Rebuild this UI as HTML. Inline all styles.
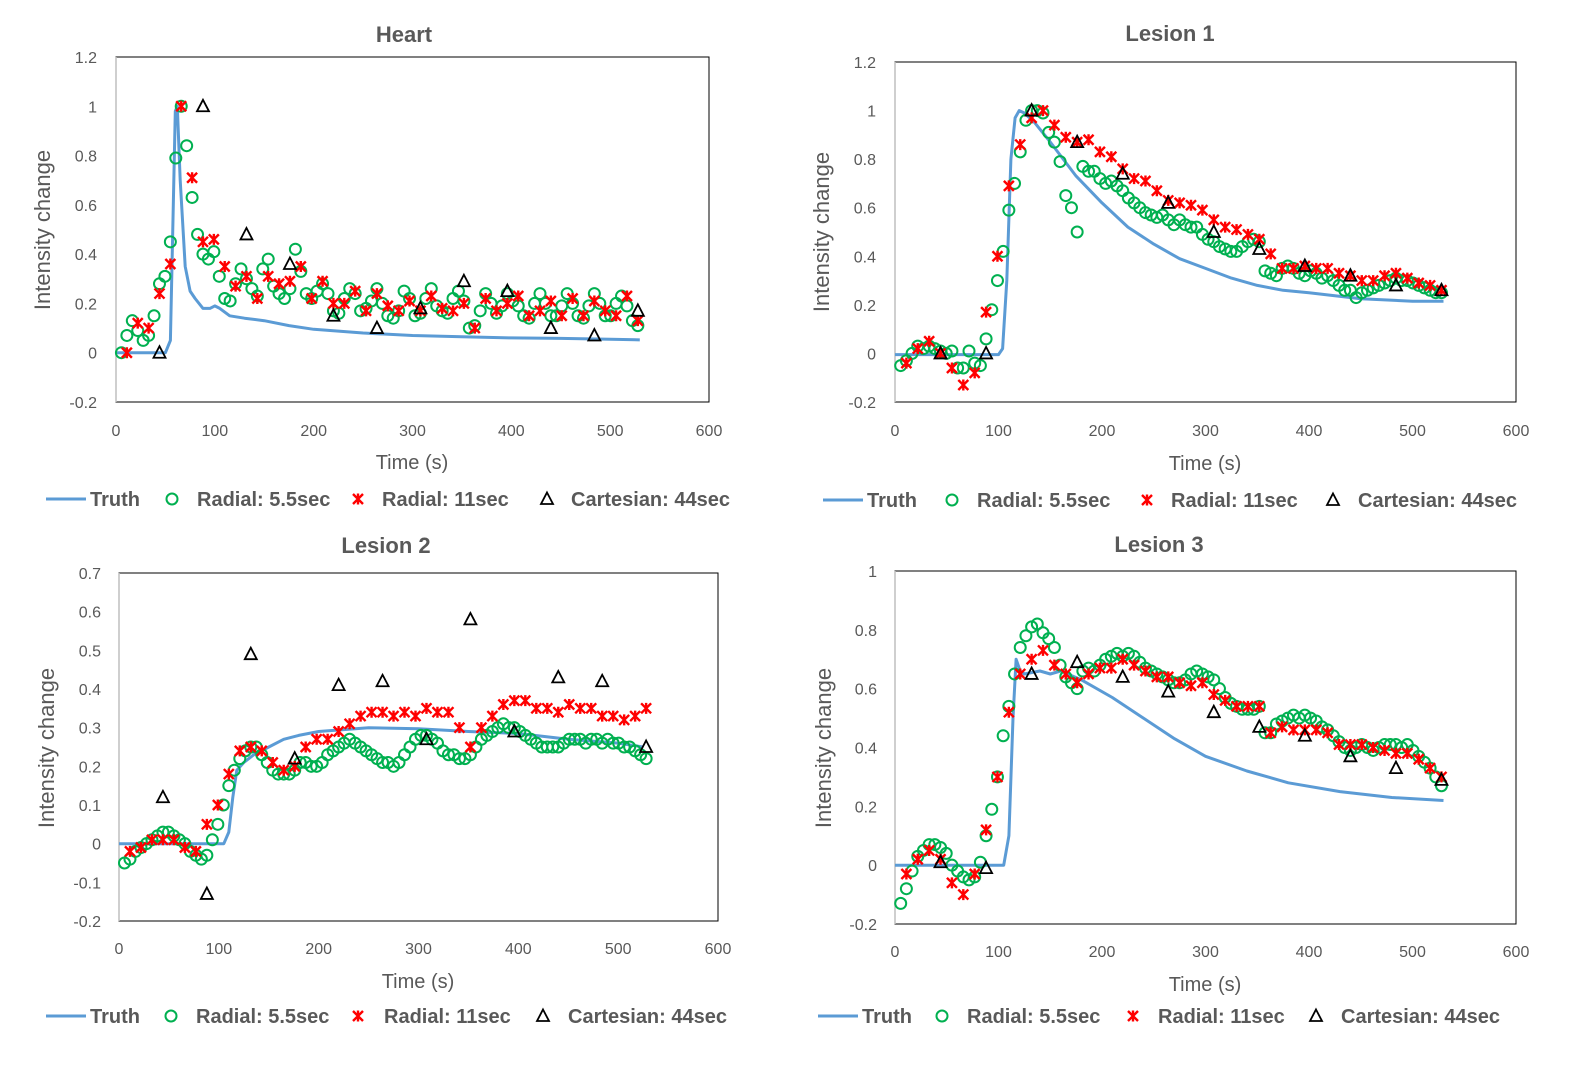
<!DOCTYPE html>
<html><head><meta charset="utf-8"><style>
body{margin:0;background:#fff;}
svg{display:block;font-family:"Liberation Sans",sans-serif;}
</style></head><body>
<svg id="chart" width="1593" height="1066" viewBox="0 0 1593 1066"></svg>
<script>
const NS="http://www.w3.org/2000/svg";
const svg=document.getElementById('chart');

// ---- Heart data ----
const heartTruthT=[0,50,55,58,60,62,65,70,75,80,88,95,100,105,115,130,150,175,200,250,300,350,400,450,500,530];
const heartTruthV=[0,0,0.05,0.6,0.98,1.0,0.7,0.35,0.25,0.22,0.18,0.18,0.19,0.18,0.15,0.14,0.13,0.11,0.095,0.08,0.07,0.065,0.06,0.058,0.055,0.052];
const heartR55=[0,0.07,0.13,0.09,0.05,0.07,0.15,0.28,0.31,0.45,0.79,1.0,0.84,0.63,0.48,0.40,0.38,0.41,0.31,0.22,0.21,0.28,0.34,0.30,0.26,0.23,0.34,0.38,0.27,0.24,0.22,0.26,0.42,0.33,
0.24,0.22,0.25,0.28,0.24,0.17,0.16,0.22,0.26,0.24,0.17,0.18,0.21,0.26,0.2,0.15,0.14,0.17,0.25,0.22,0.15,0.16,0.22,0.26,0.19,0.17,0.16,0.22,0.25,0.21,0.1,0.11,0.17,0.24,0.2,0.16,0.19,0.24,0.21,0.19,0.15,0.14,0.2,0.24,0.2,0.15,0.15,0.19,0.24,0.2,0.15,0.14,0.19,0.24,0.2,0.15,0.15,0.2,0.23,0.19,0.13,0.11];
const heartR11=[0,0.12,0.10,0.24,0.36,1.0,0.71,0.45,0.46,0.35,0.27,0.31,0.22,0.31,0.28,0.29,0.35,0.22,0.29,0.2,0.2,0.25,0.17,0.24,0.19,0.17,0.21,0.17,0.23,0.18,0.17,0.2,0.1,0.22,0.17,0.2,0.23,0.15,0.17,0.21,0.15,0.22,0.15,0.21,0.17,0.15,0.23,0.13];
const heartC44=[0,1.0,0.48,0.36,0.15,0.1,0.18,0.29,0.25,0.1,0.07,0.17];

// ---- Lesion 1 data ----
const l1TruthT=[0,100,104,108,112,116,120,125,135,150,175,200,225,250,275,300,325,350,375,400,450,500,530];
const l1TruthV=[-0.005,-0.005,0.02,0.3,0.8,0.97,1.0,0.99,0.95,0.87,0.73,0.62,0.52,0.45,0.39,0.35,0.31,0.28,0.26,0.25,0.225,0.215,0.215];
const l1R55=[-0.05,-0.03,0,0.03,0.02,0.03,0.02,0.01,0,0.01,-0.06,-0.06,0.01,-0.04,-0.05,0.06,0.18,0.30,0.42,0.59,0.70,0.83,0.96,1.0,1.0,0.99,0.91,0.87,0.79,0.65,0.60,0.50,
0.77,0.75,0.75,0.72,0.70,0.71,0.69,0.67,0.64,0.62,0.60,0.58,0.57,0.56,0.57,0.55,0.53,0.55,0.53,0.52,0.52,0.49,0.47,0.46,0.44,0.43,0.42,0.42,0.44,0.46,0.47,0.46,
0.34,0.33,0.32,0.35,0.36,0.35,0.33,0.32,0.34,0.33,0.31,0.32,0.30,0.28,0.26,0.26,0.23,0.25,0.26,0.27,0.28,0.29,0.30,0.31,0.30,0.30,0.29,0.28,0.27,0.26,0.25,0.25];
const l1R11=[-0.04,0.02,0.05,0.0,-0.06,-0.13,-0.08,0.17,0.40,0.69,0.86,0.97,1.0,0.94,0.89,0.87,0.88,0.83,0.81,0.76,0.72,0.71,0.67,0.63,0.62,0.61,0.59,0.55,0.52,0.51,0.49,0.47,0.41,0.35,0.35,0.36,0.35,0.35,0.33,0.32,0.3,0.3,0.32,0.33,0.31,0.29,0.28,0.26];
const l1C44=[0,0,1.0,0.87,0.74,0.62,0.5,0.43,0.36,0.32,0.28,0.26];

// ---- Lesion 2 data ----
const l2TruthT=[0,105,110,114,118,125,135,150,165,180,200,225,250,300,350,400,450,500,525];
const l2TruthV=[0,0,0.03,0.12,0.19,0.21,0.23,0.25,0.27,0.28,0.29,0.295,0.3,0.297,0.29,0.285,0.27,0.26,0.25];
const l2R55=[-0.05,-0.04,-0.02,-0.01,0.0,0.01,0.02,0.03,0.03,0.02,0.01,0.0,-0.02,-0.03,-0.04,-0.03,0.01,0.05,0.1,0.15,0.19,0.22,0.24,0.25,0.25,0.23,0.21,0.19,0.18,0.18,0.18,0.19,0.21,0.21,0.20,0.20,0.21,0.23,0.24,0.25,0.26,0.27,0.26,0.25,0.24,0.23,0.22,0.21,0.21,0.2,0.21,0.23,0.25,0.27,0.28,0.28,0.27,0.26,0.24,0.23,0.23,0.22,0.22,0.23,0.25,0.27,0.28,0.29,0.30,0.31,0.30,0.30,0.29,0.28,0.27,0.26,0.25,0.25,0.25,0.25,0.26,0.27,0.27,0.27,0.26,0.27,0.27,0.26,0.27,0.26,0.26,0.25,0.25,0.24,0.23,0.22];
const l2R11=[-0.02,-0.01,0.01,0.01,0.01,-0.01,-0.02,0.05,0.1,0.18,0.24,0.25,0.24,0.21,0.19,0.2,0.25,0.27,0.27,0.29,0.31,0.33,0.34,0.34,0.33,0.34,0.33,0.35,0.34,0.34,0.3,0.25,0.3,0.33,0.36,0.37,0.37,0.35,0.35,0.34,0.36,0.35,0.35,0.33,0.33,0.32,0.33,0.35];
const l2C44=[0.12,-0.13,0.49,0.22,0.41,0.42,0.27,0.58,0.29,0.43,0.42,0.25];

// ---- Lesion 3 data ----
const l3TruthT=[0,105,110,114,117,121,125,140,150,160,180,210,240,270,300,340,380,430,480,530];
const l3TruthV=[0,0,0.1,0.5,0.7,0.66,0.65,0.66,0.65,0.66,0.63,0.57,0.5,0.43,0.37,0.32,0.28,0.25,0.23,0.22];
const l3R55=[-0.13,-0.08,-0.02,0.03,0.05,0.07,0.07,0.06,0.04,0.0,-0.02,-0.04,-0.05,-0.04,0.01,0.1,0.19,0.3,0.44,0.54,0.65,0.74,0.78,0.81,0.82,0.79,0.77,0.74,0.68,0.64,0.62,0.6,0.66,0.67,0.66,0.68,0.70,0.71,0.72,0.71,0.72,0.71,0.69,0.67,0.66,0.65,0.64,0.63,0.62,0.62,0.63,0.65,0.66,0.65,0.64,0.63,0.60,0.57,0.55,0.54,0.53,0.53,0.53,0.54,0.45,0.45,0.48,0.49,0.50,0.51,0.50,0.51,0.50,0.49,0.47,0.46,0.44,0.42,0.40,0.39,0.40,0.41,0.40,0.39,0.40,0.41,0.41,0.41,0.40,0.41,0.39,0.37,0.35,0.33,0.30,0.27];
const l3R11=[-0.03,0.02,0.05,0.02,-0.06,-0.1,-0.03,0.12,0.3,0.52,0.65,0.7,0.73,0.68,0.65,0.62,0.65,0.67,0.67,0.7,0.68,0.66,0.64,0.64,0.62,0.61,0.62,0.58,0.56,0.54,0.54,0.54,0.45,0.47,0.46,0.46,0.46,0.45,0.41,0.41,0.41,0.4,0.39,0.38,0.38,0.36,0.33,0.3];
const l3C44=[0.01,-0.01,0.65,0.69,0.64,0.59,0.52,0.47,0.44,0.37,0.33,0.29];

const xTicks=[0,100,200,300,400,500,600];

const panels=[
 {id:'heart',title:'Heart',tx:404,ty:42,box:[116,57,709,402],ymin:-0.2,ymax:1.2,ystep:0.2,dec:1,yLabX:97,xLabY:436,xtX:412,xtY:469,ytX:50,ytY:230,legY:499,
  leg:[46,90,172,197,358,382,547,571],tt:heartTruthT,tv:heartTruthV,r55:heartR55,r11:heartR11,c44:heartC44},
 {id:'lesion1',title:'Lesion 1',tx:1170,ty:41,box:[895,62,1516,402],ymin:-0.2,ymax:1.2,ystep:0.2,dec:1,yLabX:876,xLabY:436,xtX:1205,xtY:470,ytX:829,ytY:232,legY:500,
  leg:[823,867,952,977,1147,1171,1333,1358],tt:l1TruthT,tv:l1TruthV,r55:l1R55,r11:l1R11,c44:l1C44},
 {id:'lesion2',title:'Lesion 2',tx:386,ty:553,box:[119,573,718,921],ymin:-0.2,ymax:0.7,ystep:0.1,dec:1,yLabX:101,xLabY:954,xtX:418,xtY:988,ytX:54,ytY:748,legY:1016,
  leg:[46,90,171,196,358,384,543,568],tt:l2TruthT,tv:l2TruthV,r55:l2R55,r11:l2R11,c44:l2C44},
 {id:'lesion3',title:'Lesion 3',tx:1159,ty:552,box:[895,571,1516,924],ymin:-0.2,ymax:1.0,ystep:0.2,dec:1,yLabX:877,xLabY:957,xtX:1205,xtY:991,ytX:831,ytY:748,legY:1016,
  leg:[818,862,942,967,1133,1158,1316,1341],tt:l3TruthT,tv:l3TruthV,r55:l3R55,r11:l3R11,c44:l3C44}
];

function mk(tag,attrs,parent){const e=document.createElementNS(NS,tag);for(const k in attrs)e.setAttribute(k,attrs[k]);(parent||svg).appendChild(e);return e;}
function txt(s,attrs,parent){const e=mk('text',attrs,parent);e.textContent=s;return e;}

function circleM(g,x,y){return mk('circle',{cx:x,cy:y,r:5.5,fill:'none',stroke:'#00b050','stroke-width':2},g);}
function crossM(g,x,y){return mk('path',{d:`M${x-5},${y-5}L${x+5},${y+5}M${x+5},${y-5}L${x-5},${y+5}M${x},${y-5.5}L${x},${y+5.5}`,stroke:'#ff0000','stroke-width':2.4,fill:'none'},g);}
function triM(g,x,y){return mk('path',{d:`M${x},${y-6.5}L${x+6},${y+5}L${x-6},${y+5}Z`,stroke:'#000','stroke-width':1.8,fill:'none'},g);}

panels.forEach(P=>{
 const [x0,y0,x1,y1]=P.box;
 const g=mk('g',{});
 
 
 const sx=t=>x0+(t-0)/600*(x1-x0);
 const sy=v=>y1-(v-P.ymin)/(P.ymax-P.ymin)*(y1-y0);
 const frame=mk('rect',{x:x0,y:y0,width:x1-x0,height:y1-y0,fill:'none',stroke:'#000','stroke-width':1},g);
 
 
 const yax=mk('line',{x1:x0,y1:y0,x2:x0,y2:y1,stroke:'#bfbfbf','stroke-width':1.5},g);
 
 
 const t=txt(P.title,{x:P.tx,y:P.ty,'text-anchor':'middle','font-size':22,'font-weight':'bold',fill:'#595959'},g);
 
 
 const n=Math.round((P.ymax-P.ymin)/P.ystep);
 for(let i=0;i<=n;i++){const v=P.ymin+i*P.ystep;let s=(Math.abs(v)<1e-9)?'0':(Math.abs(v-Math.round(v))<1e-9?String(Math.round(v)):v.toFixed(P.dec));
  const l=txt(s,{x:P.yLabX,y:sy(v)+6,'text-anchor':'end','font-size':16,fill:'#595959'},g);
  
  }
 xTicks.forEach(v=>{const l=txt(String(v),{x:sx(v),y:P.xLabY,'text-anchor':'middle','font-size':16,fill:'#595959'},g);
  
  });
 const xt=txt('Time (s)',{x:P.xtX,y:P.xtY,'text-anchor':'middle','font-size':20,fill:'#595959'},g);
 
 
 const yt=txt('Intensity change',{x:P.ytX,y:P.ytY,'text-anchor':'middle','font-size':22,fill:'#595959',transform:`rotate(-90 ${P.ytX} ${P.ytY})`},g);
 
 
 let d='';P.tt.forEach((tt,i)=>{d+=(i?'L':'M')+sx(tt).toFixed(1)+','+sy(P.tv[i]).toFixed(1);});
 const line=mk('path',{d:d,fill:'none',stroke:'#5b9bd5','stroke-width':3,'stroke-linejoin':'round'},g);
 
 
 P.r55.forEach((v,i)=>{const m=circleM(g,sx(5.5*(i+1)),sy(v));
  
  });
 P.r11.forEach((v,i)=>{const m=crossM(g,sx(11*(i+1)),sy(v));
  
  });
 P.c44.forEach((v,i)=>{const m=triM(g,sx(44*(i+1)),sy(v));
  
  });
 const L=P.leg, ly=P.legY;
 const lg=mk('g',{},g);
 
 
 mk('line',{x1:L[0],y1:ly,x2:L[0]+40,y2:ly,stroke:'#5b9bd5','stroke-width':3},lg);
 txt('Truth',{x:L[1],y:ly+7,'font-size':20,'font-weight':'bold',fill:'#595959'},lg);
 circleM(lg,L[2],ly);
 txt('Radial: 5.5sec',{x:L[3],y:ly+7,'font-size':20,'font-weight':'bold',fill:'#595959'},lg);
 crossM(lg,L[4],ly);
 txt('Radial: 11sec',{x:L[5],y:ly+7,'font-size':20,'font-weight':'bold',fill:'#595959'},lg);
 triM(lg,L[6],ly);
 txt('Cartesian: 44sec',{x:L[7],y:ly+7,'font-size':20,'font-weight':'bold',fill:'#595959'},lg);
});
</script>
</body></html>
